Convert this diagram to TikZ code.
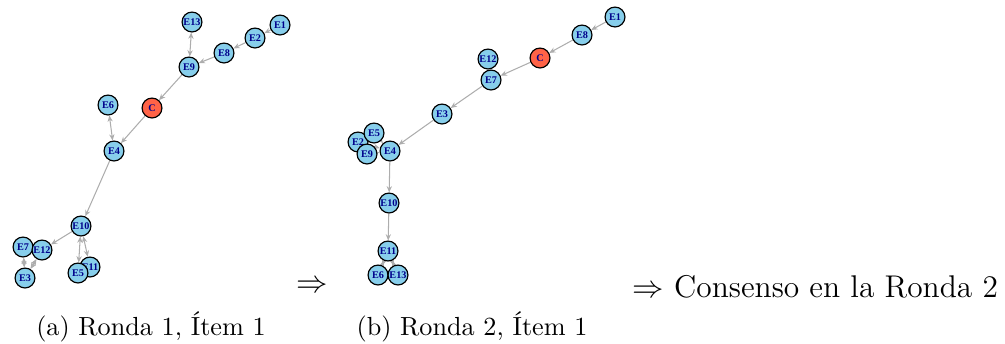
\documentclass[tikz,border=0pt]{standalone}
\usepackage{amsmath,amssymb}
\usepackage{fontspec}
\usepackage{tikz}
\usetikzlibrary{arrows.meta,backgrounds}
\usepackage{xcolor}
\newfontfamily\nodofont{Liberation Serif}
\definecolor{celeste}{HTML}{87CEEB}
\definecolor{tomate}{HTML}{FF6347}
\definecolor{azuloscuro}{HTML}{00008B}
\definecolor{arista}{HTML}{ADADAD}

\begin{document}
\begin{tikzpicture}[x=0.382pt,y=-0.382pt,>={Stealth[length=2.4pt,width=2pt]},line cap=round,
  est/.style={circle,draw=black,line width=0.45pt,fill=celeste,minimum size=7.6pt,inner sep=0pt,
    text=azuloscuro,font=\nodofont\bfseries\fontsize{3.9}{4}\selectfont},
  cen/.style={est,fill=tomate},
  ari/.style={arista,line width=0.4pt},
  doble/.style={arista,line width=0.9pt}]
\useasboundingbox (0,0) rectangle (1005,343);
% (a) Ronda 1
\node[est] (aE13) at (192,22) {E13};
\node[est] (aE1) at (280,25) {E1};
\node[est] (aE2) at (255,38) {E2};
\node[est] (aE8) at (224,53) {E8};
\node[est] (aE9) at (189,67) {E9};
\node[est] (aE6) at (108,105) {E6};
\node[cen] (aC) at (152,108) {C};
\node[est] (aE4) at (114,151) {E4};
\node[est] (aE10) at (81,226) {E10};
\node[est] (aE7) at (23,247) {E7};
\node[est] (aE12) at (42,250) {E12};
\node[est] (aE3) at (25,278) {E3};
\node[est] (aE11) at (90,267) {E11};
\node[est] (aE5) at (78,273) {E5};
\begin{scope}[on background layer]
\draw[ari,->] (aE1) -- (aE2);
\draw[ari,->] (aE2) -- (aE8);
\draw[ari,->] (aE8) -- (aE9);
\draw[ari,<->] (aE13) -- (aE9);
\draw[ari,->] (aE9) -- (aC);
\draw[ari,->] (aC) -- (aE4);
\draw[ari,<->] (aE6) -- (aE4);
\draw[ari,->] (aE4) -- (aE10);
\draw[ari,->] (aE10) -- (aE12);
\draw[doble,<->] (aE7) -- (aE3);
\draw[doble,<->] (aE12) -- (aE3);
\draw[ari,<->] (aE10) -- (aE5);
\draw[ari,<->] (aE10) -- (aE11);
\end{scope}
% (b) Ronda 2
\node[est] (bE1) at (615,17) {E1};
\node[est] (bE8) at (582,35) {E8};
\node[cen] (bC) at (540,58) {C};
\node[est] (bE7) at (491,80) {E7};
\node[est] (bE12) at (488,59) {E12};
\node[est] (bE3) at (442,114) {E3};
\node[est] (bE2) at (358,142) {E2};
\node[est] (bE5) at (374,133) {E5};
\node[est] (bE9) at (367,154) {E9};
\node[est] (bE4) at (390,151) {E4};
\node[est] (bE10) at (389,203) {E10};
\node[est] (bE11) at (388,251) {E11};
\node[est] (bE6) at (378,275) {E6};
\node[est] (bE13) at (398,275) {E13};
\begin{scope}[on background layer]
\draw[ari,->] (bE1) -- (bE8);
\draw[ari,->] (bE8) -- (bC);
\draw[ari,->] (bC) -- (bE7);
\draw[ari,->] (bE7) -- (bE3);
\draw[ari,->] (bE3) -- (bE4);
\draw[ari,->] (bE2) -- (bE4);
\draw[ari,->] (bE5) -- (bE4);
\draw[ari,->] (bE9) -- (bE4);
\draw[ari,->] (bE4) -- (bE10);
\draw[ari,->] (bE10) -- (bE11);
\draw[doble,<->] (bE11) -- (bE6);
\draw[doble,<->] (bE11) -- (bE13);
\end{scope}
% textos
\node (capa) at (151,327) {(a) Ronda 1, Ítem 1};
\node (capb) at (472,327) {(b) Ronda 2, Ítem 1};
\node[font=\large] (impl) at (312,287) {$\Rightarrow$};
\node[font=\large,anchor=west,inner sep=0pt] (cons) at (632,287) {$\Rightarrow$ Consenso en la Ronda 2};
\end{tikzpicture}
\end{document}
